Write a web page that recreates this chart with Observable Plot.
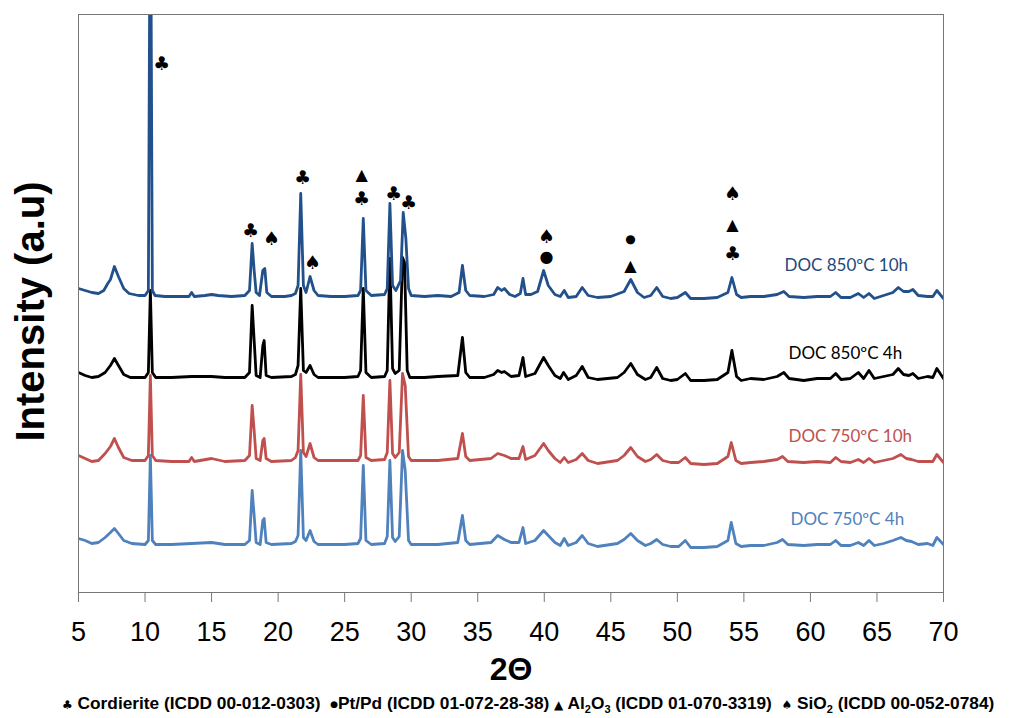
<!DOCTYPE html>
<html><head><meta charset="utf-8">
<script src="https://cdn.jsdelivr.net/npm/d3@7"></script>
<script src="https://cdn.jsdelivr.net/npm/@observablehq/plot@0.6"></script>
<style>
body{margin:0;background:#fff;}
#chart{width:1009px;height:690px;}
#foot{font-family:"Liberation Sans",Arial,sans-serif;font-weight:bold;font-size:17.3px;white-space:nowrap;position:absolute;left:62px;top:693px;line-height:20px;color:#000;}
#foot .s{font-family:"DejaVu Sans";font-size:12px;}
#foot .d{font-family:"DejaVu Sans";font-size:9px;vertical-align:2px;}
#foot sub{font-size:11px;vertical-align:-4px;line-height:0;}
</style></head><body>
<div id="chart"></div>
<div id="foot"><span class="s">♣</span> Cordierite (ICDD 00-012-0303) &nbsp;<span class="d">●</span>Pt/Pd (ICDD 01-072-28-38) <span class="s">▲</span> Al<sub>2</sub>O<sub>3</sub> (ICDD 01-070-3319) &nbsp;<span class="s">♠</span> SiO<sub>2</sub> (ICDD 00-052-0784)</div>
<script>
// ---- data ----
const xTicks = [5,10,15,20,25,30,35,40,45,50,55,60,65,70];
const seriesNames = ["DOC 750ºC 4h","DOC 750ºC 10h","DOC 850ºC 4h","DOC 850ºC 10h"];
const seriesColors = ["#4f81bd","#c0504d","#000000","#22508a"];
const labelColors = ["#4f81bd","#c0504d","#000000","#1f497d"];
const labelTheta = [58.5,58.35,58.35,58.05];
const labelIntensity = [73,156,239,327];

const doc750_4h = [[5,54],[5.5,52],[6,49],[6.5,50],[7,55],[7.4,60],[7.7,64],[8,59],[8.4,52],[9,49],[10,48],[10.25,52],[10.4,137],[10.55,52],[10.8,48],[12,48],[13.5,49],[15,50],[16,48],[17.5,48],[17.85,52],[18.05,102],[18.2,77],[18.35,50],[18.65,48],[18.85,72],[18.95,74],[19.1,50],[19.5,48],[21,49],[21.3,51],[21.5,57],[21.7,142],[21.9,55],[22.1,52],[22.4,62],[22.7,51],[23,48],[25,48],[26,49],[26.2,54],[26.4,127],[26.6,52],[27,48],[28,49],[28.2,56],[28.4,132],[28.6,55],[28.8,51],[29.1,56],[29.35,142],[29.55,122],[29.8,52],[30,48],[32,48],[33.5,50],[33.85,77],[34.1,52],[34.4,48],[36,50],[36.5,57],[37,53],[37.5,50],[38.1,50],[38.4,65],[38.6,49],[39.3,52],[39.95,62],[40.3,57],[40.8,50],[41.2,47],[41.5,54],[41.8,47],[42.4,50],[42.85,57],[43.3,49],[44,46],[45.5,49],[46,53],[46.5,59],[47,52],[47.6,47],[48,49],[48.45,53],[48.9,48],[49.5,46],[50.1,46],[50.6,52],[51,45],[52,45],[53,46],[53.8,52],[54.05,70],[54.4,49],[54.8,46],[55.5,47],[56.5,47],[57.5,50],[57.9,53],[58.3,48],[59.5,47],[60.5,48],[61.5,48],[61.9,52],[62.3,47],[63,47],[63.6,50],[64,47],[64.4,52],[64.8,47],[65.5,49],[66.2,52],[66.8,55],[67.2,52],[67.6,51],[68.1,48],[68.8,49],[69.2,47],[69.5,55],[70,48]];

const doc750_10h = [[5,137],[5.5,134],[6,131],[6.5,132],[7,139],[7.4,146],[7.7,154],[8,145],[8.4,135],[9,132],[10,132],[10.25,137],[10.4,217],[10.55,137],[10.8,132],[12,131],[13.3,131],[13.5,135],[13.7,131],[15,134],[16,131],[17.5,132],[17.85,137],[18.05,187],[18.2,162],[18.35,134],[18.65,132],[18.85,152],[18.95,154],[19.1,134],[19.5,131],[21,132],[21.3,135],[21.5,142],[21.7,218],[21.9,140],[22.1,136],[22.4,149],[22.7,135],[23,132],[25,132],[26,132],[26.2,137],[26.4,197],[26.6,135],[27,132],[28,133],[28.2,140],[28.4,212],[28.6,139],[28.8,135],[29.1,140],[29.35,219],[29.55,207],[29.8,136],[30,132],[32,132],[33.5,134],[33.85,159],[34.1,136],[34.4,132],[36,134],[36.5,139],[37,137],[37.5,134],[38.1,134],[38.4,146],[38.6,133],[39.3,137],[39.95,149],[40.3,142],[40.8,134],[41.2,130],[41.5,135],[41.8,130],[42.4,133],[42.85,139],[43.3,132],[44,129],[45.5,132],[46,137],[46.5,145],[47,136],[47.6,131],[48,133],[48.45,138],[48.9,132],[49.5,130],[50.1,130],[50.6,135],[51,129],[52,128],[53,129],[53.8,136],[54.05,150],[54.4,132],[54.8,129],[55.5,130],[56.5,131],[57.5,133],[57.9,136],[58.3,131],[59.5,130],[60.5,131],[61.5,130],[61.9,135],[62.3,131],[63,130],[63.6,133],[64,130],[64.4,134],[64.8,130],[65.5,132],[66.2,134],[66.8,138],[67.2,134],[67.6,133],[68.1,131],[68.8,131],[69.2,131],[69.5,138],[70,130]];

const doc850_4h = [[5,220],[5.5,217],[6,215],[6.5,216],[7,220],[7.4,227],[7.7,234],[8,227],[8.4,218],[8.9,215],[10,215],[10.25,220],[10.4,302],[10.55,220],[10.8,215],[12,215],[13.5,216],[15,216],[16,215],[17.5,215],[17.85,220],[18.05,287],[18.2,252],[18.35,217],[18.65,215],[18.85,247],[18.95,252],[19.1,217],[19.5,215],[21,216],[21.3,218],[21.5,227],[21.7,304],[21.9,222],[22.1,220],[22.4,227],[22.7,218],[23,215],[25,215],[26,216],[26.2,222],[26.4,304],[26.6,220],[27,215],[28,216],[28.2,222],[28.4,334],[28.6,224],[28.8,219],[29.1,222],[29.35,335],[29.5,330],[29.7,222],[29.9,215],[31,215],[32,216],[33.5,217],[33.85,255],[34.1,220],[34.4,215],[35.5,215],[36.2,218],[36.5,222],[36.8,220],[37,221],[37.5,216],[38.1,217],[38.4,235],[38.6,216],[39.3,219],[39.95,235],[40.3,227],[40.8,217],[41.2,214],[41.45,220],[41.8,213],[42.4,217],[42.85,226],[43.3,215],[44,213],[45.5,215],[46,220],[46.5,229],[47,218],[47.6,213],[48,215],[48.45,225],[48.9,214],[49.5,212],[50,213],[50.6,219],[51,212],[52,212],[53,213],[53.8,220],[54.1,242],[54.45,216],[54.8,212],[55.5,214],[56.5,213],[57.5,216],[58,220],[58.4,214],[59.5,212],[60.5,214],[61.5,214],[61.9,219],[62.3,213],[63,214],[63.6,220],[64,214],[64.4,222],[64.8,214],[65.5,216],[66.2,218],[66.6,224],[67,218],[67.4,217],[67.7,219],[68.1,214],[68.8,216],[69.2,215],[69.5,224],[70,214]];

const doc850_10h = [[5,304],[5.5,302],[6,300],[6.5,299],[6.9,302],[7.2,309],[7.4,313],[7.7,326],[8,316],[8.4,304],[8.8,299],[9.5,297],[10,297],[10.25,302],[10.4,760],[10.55,302],[10.75,297],[11.5,296],[12.5,296],[13.3,296],[13.5,300],[13.7,296],[14.5,297],[15,298],[15.5,297],[16.5,296],[17.5,297],[17.85,302],[18.05,349],[18.2,322],[18.35,300],[18.6,297],[18.85,322],[19,324],[19.15,300],[19.5,296],[20.5,296],[21,297],[21.3,299],[21.5,307],[21.7,399],[21.9,307],[22.1,300],[22.4,316],[22.7,302],[23,297],[24,296],[25,296],[26,297],[26.2,302],[26.4,374],[26.6,302],[27,297],[28,298],[28.2,304],[28.4,389],[28.6,307],[28.85,302],[29.2,312],[29.4,380],[29.6,354],[29.8,304],[30,297],[31,296],[32,297],[33,296],[33.6,300],[33.85,327],[34.1,302],[34.4,297],[35.5,296],[36.2,298],[36.5,305],[36.8,302],[37,304],[37.4,298],[37.8,296],[38.2,299],[38.4,314],[38.6,298],[39,298],[39.5,301],[39.95,322],[40.3,307],[40.8,298],[41.2,296],[41.5,302],[41.8,295],[42.4,296],[42.85,305],[43.3,297],[44,295],[45,296],[46,301],[46.5,313],[47,300],[47.5,295],[48,297],[48.45,305],[48.9,296],[49.5,294],[50,295],[50.6,300],[51,294],[52,294],[53,295],[53.8,300],[54.1,315],[54.45,298],[54.8,295],[55.5,296],[56.5,296],[57.5,298],[58,301],[58.4,296],[59.5,295],[60.5,296],[61.5,296],[61.9,300],[62.3,295],[63,295],[63.6,299],[64,295],[64.4,299],[64.8,294],[65.5,297],[66.2,300],[66.6,305],[67,301],[67.4,301],[67.7,303],[68.1,297],[68.8,296],[69.2,296],[69.5,302],[70,294]];

const seriesData = [doc750_4h, doc750_10h, doc850_4h, doc850_10h];

// phase markers: symbol, 2θ, intensity position
const markSymbols = ["♣","♣","♠","♣","♠","▲","♣","♣","♣","♠","●","●","▲","♠","▲","♣"];
const markTheta   = [11.24,17.92,19.5,21.83,22.58,26.27,26.27,28.67,29.8,40.17,40.17,46.48,46.48,54.14,54.14,54.14];
const markInt     = [529,362,354,415,330,418,394,399,390,356,336,353,327,399,368,339];
const markSize    = [19,19,19,19,19,16,19,19,19,19,16,12,16,19,16,19];

// ---- build tables ----
const lineRows = seriesData.map((arr, i) => arr.map(([t, v]) => ({theta: t, intensity: v, series: seriesNames[i]})));
const labelRows = seriesNames.map((n, i) => ({name: n, theta: labelTheta[i], intensity: labelIntensity[i], color: labelColors[i]}));
const markRows = markSymbols.map((s, i) => ({s, theta: markTheta[i], intensity: markInt[i], size: markSize[i]}));
const sizes = [...new Set(markSize)];

const chart = Plot.plot({
  width: 1009,
  height: 690,
  marginLeft: 78,
  marginRight: 66,
  marginTop: 14,
  marginBottom: 98,
  style: {fontFamily: "'Liberation Sans', Arial, sans-serif", background: "#fff", color: "#000"},
  x: {domain: [5, 70]},
  y: {domain: [0, 578], axis: null},
  marks: [
    ...lineRows.map((rows, i) => Plot.line(rows, {x: "theta", y: "intensity", stroke: seriesColors[i], strokeWidth: 2.8, clip: true, strokeLinejoin: "round"})),
    Plot.frame({stroke: "#777", strokeWidth: 1}),
    Plot.axisX({ticks: xTicks, tickSize: 10, tickPadding: 19, fontSize: 27, stroke: "#777", fill: "#000", label: null, tickFormat: d => String(d)}),
    ...sizes.map(sz => Plot.text(markRows.filter(d => d.size === sz), {x: "theta", y: "intensity", text: "s", fontSize: sz, fontFamily: "DejaVu Sans", fill: "#000"})),
    Plot.text(labelRows, {x: "theta", y: "intensity", text: "name", fill: "color", textAnchor: "start", fontSize: 17, fontFamily: "Lato"}),
    Plot.text(["2Θ"], {text: d => d, frameAnchor: "bottom", lineAnchor: "middle", textAnchor: "middle", dy: 77, fontSize: 32, fontWeight: "bold", fill: "#000"}),
    Plot.text(["Intensity (a.u)"], {text: d => d, frameAnchor: "left", textAnchor: "middle", lineAnchor: "middle", rotate: -90, dx: -47, dy: 8, fontSize: 40, fontWeight: "bold", fill: "#000"})
  ]
});
document.getElementById("chart").appendChild(chart);
</script>
</body></html>
